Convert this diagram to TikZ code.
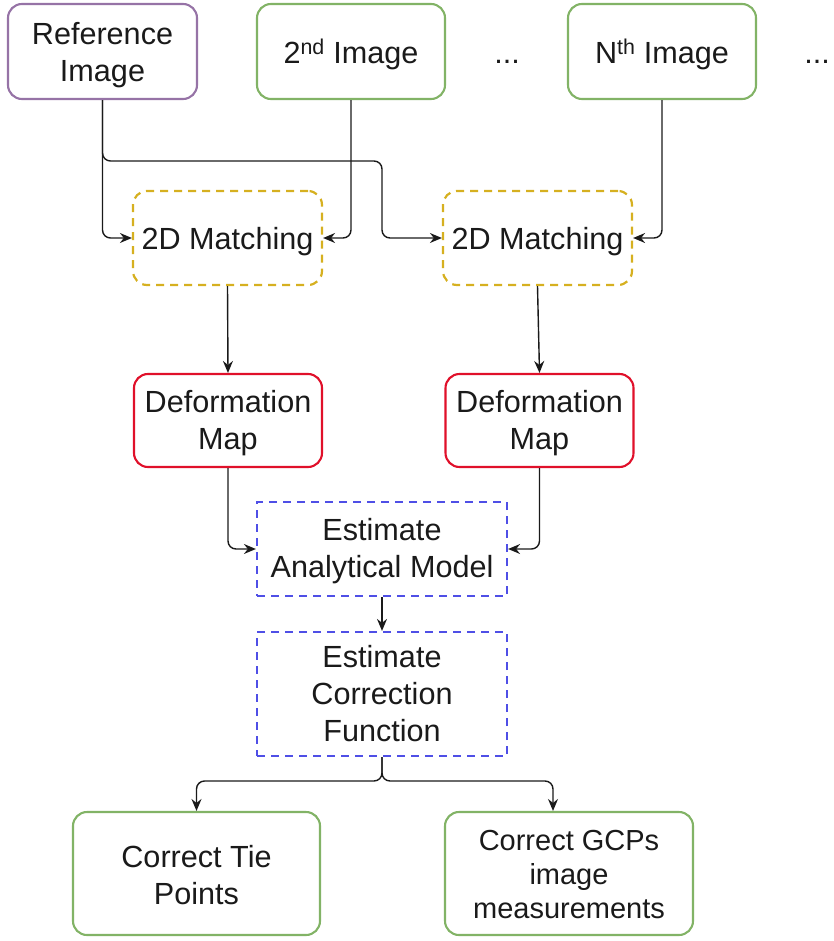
\documentclass[tikz,border=0pt]{standalone}
\usepackage{fontspec}
\setmainfont{Liberation Sans}
\usetikzlibrary{arrows.meta,calc}
\definecolor{cpurple}{HTML}{9673A6}
\definecolor{cgreen}{HTML}{82B366}
\definecolor{cred}{HTML}{E0102A}
\definecolor{cyellow}{HTML}{D6B020}
\definecolor{cblue}{HTML}{4F4FE6}
\definecolor{ctext}{HTML}{1A1A1A}
\begin{document}
\begin{tikzpicture}[x=1pt,y=-1pt,
  box/.style={draw, line width=2.1pt, inner sep=0pt, fill=white},
  txt/.style={align=center, inner sep=0pt, text=ctext, font=\fontsize{30.6}{37}\selectfont},
  rbox/.style={box, rounded corners=14pt},
  dbox/.style={box, dash pattern=on 8pt off 6pt, line width=2.2pt},
  arr/.style={-{Stealth[length=12pt,width=10pt,inset=4pt]}, line width=1.4pt, rounded corners=8pt, draw=ctext},
  dots/.style={font=\fontsize{30.6}{37}\selectfont, anchor=base, inner sep=0pt, text=ctext}
]
\useasboundingbox (0,0) rectangle (833,941);
% top row
\node[rbox, draw=cpurple, minimum width=189pt, minimum height=95pt,
  label={[txt,yshift=-4pt]center:{Reference\\Image}}] (ref) at (102.5,51.5) {};
\node[rbox, draw=cgreen, minimum width=188pt, minimum height=95pt,
  label={[txt,yshift=-3pt]center:{2\textsuperscript{nd} Image}}] (img2) at (351,51.5) {};
\node[rbox, draw=cgreen, minimum width=188pt, minimum height=95pt,
  label={[txt,yshift=-3pt]center:{N\textsuperscript{th} Image}}] (imgN) at (662,51.5) {};
\node[dots] (dots1) at (507,64) {...};
\node[dots] (dots2) at (817,64) {...};
% matching
\node[dbox, rounded corners=14pt, draw=cyellow, minimum width=189pt, minimum height=94pt,
  label={[txt,yshift=-4pt]center:{2D Matching}}] (m1) at (227.5,238) {};
\node[dbox, rounded corners=14pt, draw=cyellow, minimum width=189pt, minimum height=94pt,
  label={[txt,yshift=-4pt]center:{2D Matching}}] (m2) at (537.5,238) {};
% deformation
\node[rbox, draw=cred, minimum width=188pt, minimum height=93pt,
  label={[txt,yshift=-3pt]center:{Deformation\\Map}}] (d1) at (228,420.5) {};
\node[rbox, draw=cred, minimum width=188pt, minimum height=93pt,
  label={[txt,yshift=-3pt]center:{Deformation\\Map}}] (d2) at (539.5,420.5) {};
% estimates
\node[dbox, draw=cblue, minimum width=250pt, minimum height=94pt,
  label={[txt,yshift=-2pt]center:{Estimate\\Analytical Model}}] (est) at (382,549) {};
\node[dbox, draw=cblue, minimum width=250pt, minimum height=124pt,
  label={[txt]center:{Estimate\\Correction\\Function}}] (corr) at (382,694) {};
% outputs
\node[rbox, draw=cgreen, minimum width=247pt, minimum height=123pt,
  label={[txt,yshift=-1.5pt]center:{Correct Tie\\Points}}] (tie) at (196.5,873.5) {};
\node[rbox, draw=cgreen, minimum width=248pt, minimum height=123pt,
  label={[txt,yshift=-1pt,font=\fontsize{29}{34}\selectfont]center:{Correct GCPs\\image\\measurements}}] (gcp) at (569,873.5) {};
% helper coordinates
\coordinate (br) at (382,161);
\coordinate (sp) at (382,781);
\coordinate (gt) at (553,0);
% connectors
\draw[arr] (ref.south) -- (ref.south |- m1.west) -- (m1.west);
\draw[arr] (ref.south) -- (ref.south |- br) -- (br) -- (br |- m2.west) -- (m2.west);
\draw[arr] (img2.south) |- (m1.east);
\draw[arr] (imgN.south) |- (m2.east);
\draw[arr] (m1.south) -- (d1.north);
\draw[arr] (m2.south) -- (d2.north);
\draw[arr] (d1.south) |- (est.west);
\draw[arr] (d2.south) |- (est.east);
\draw[arr] (est.south) -- (corr.north);
\draw[arr] (corr.south) -- (sp) -| (tie.north);
\draw[arr] (corr.south) -- (sp) -| (gt |- gcp.north);
\end{tikzpicture}
\end{document}
